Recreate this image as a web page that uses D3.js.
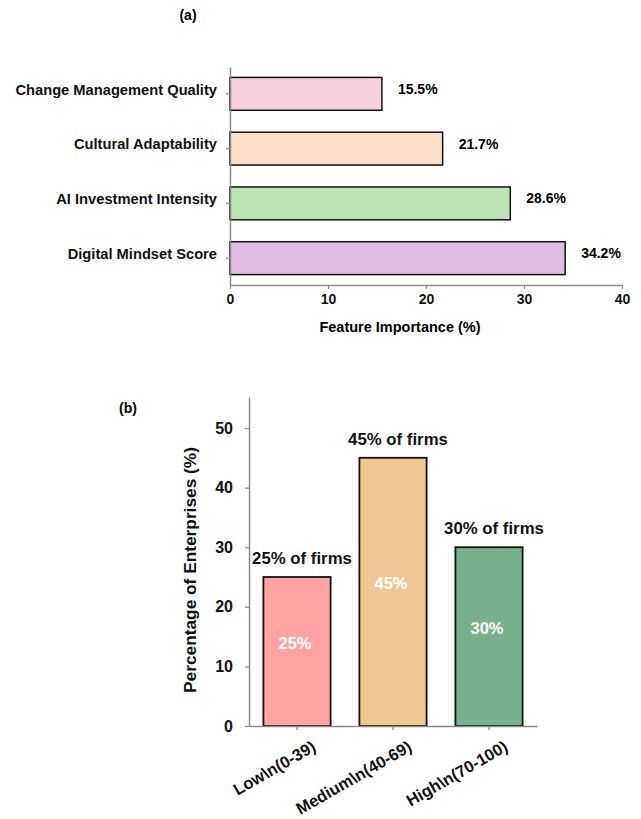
<!DOCTYPE html>
<html>
<head>
<meta charset="utf-8">
<script src="https://cdn.jsdelivr.net/npm/d3@7/dist/d3.min.js"></script>
<style>
  html, body { margin: 0; padding: 0; background: #fff; }
  svg { display: block; font-family: "Liberation Sans", Arial, sans-serif; }
</style>
</head>
<body>
<svg id="fig" width="641" height="819"></svg>
<script>
// Panel (a): feature importance
const features = ["Change Management Quality", "Cultural Adaptability", "AI Investment Intensity", "Digital Mindset Score"];
const importance = [15.5, 21.7, 28.6, 34.2];
const featureColors = ["#f2d0dc", "#fde0cc", "#bce2b5", "#e0bde3"];
const importanceTicks = [0, 10, 20, 30, 40];

// Panel (b): enterprise distribution by score band
const bands = ["Low\\n(0-39)", "Medium\\n(40-69)", "High\\n(70-100)"];
const sharePct = [25, 45, 30];
const bandColors = ["#ffa3a3", "#efc795", "#77b28c"];
const shareTicks = [0, 10, 20, 30, 40, 50];

const svg = d3.select("#fig");
const axisGrey = "#8a8a8a";
const fontFam = "Liberation Sans, Arial, sans-serif";

// ---------- (a) ----------
const ga = svg.append("g");
const xa = d3.scaleLinear().domain([0, 40]).range([230, 622]);
const ya = d3.scaleBand().domain(features).range([67, 285]).paddingInner(0.4).paddingOuter(0.19);

ga.append("text").attr("x", 188).attr("y", 20).attr("text-anchor", "middle")
  .attr("font-size", 14).attr("font-weight", "bold").text("(a)");

ga.selectAll("rect.bar").data(features).join("rect")
  .attr("class", "bar")
  .attr("x", xa(0))
  .attr("y", d => ya(d))
  .attr("width", (d, i) => xa(importance[i]) - xa(0))
  .attr("height", ya.bandwidth())
  .attr("fill", (d, i) => featureColors[i])
  .attr("stroke", "#111").attr("stroke-width", 1.5);

ga.selectAll("text.val").data(features).join("text")
  .attr("class", "val")
  .attr("x", (d, i) => xa(importance[i]) + 16)
  .attr("y", d => ya(d) + ya.bandwidth() / 2 - 5)
  .attr("dy", "0.35em")
  .attr("font-size", 14).attr("font-weight", "bold")
  .text((d, i) => importance[i].toFixed(1) + "%");

const xAxisA = ga.append("g").attr("transform", "translate(0,285)")
  .call(d3.axisBottom(xa).tickValues(importanceTicks).tickSize(4).tickSizeOuter(0).tickPadding(5));
const yAxisA = ga.append("g").attr("transform", "translate(230,0)")
  .call(d3.axisLeft(ya).tickSize(4).tickSizeOuter(0).tickPadding(9));
[xAxisA, yAxisA].forEach(ax => {
  ax.select(".domain").attr("stroke", axisGrey).attr("stroke-width", 1.5);
  ax.selectAll(".tick line").attr("stroke", axisGrey).attr("stroke-width", 1.2);
  ax.selectAll(".tick text").attr("fill", "#111").attr("font-size", 14.7)
    .attr("font-weight", "bold").attr("font-family", fontFam);
});
xAxisA.selectAll(".tick text").attr("font-size", 14);
yAxisA.selectAll(".tick text").attr("dy", "0.05em");

ga.append("text").attr("x", 400).attr("y", 332).attr("text-anchor", "middle")
  .attr("font-size", 14.5).attr("font-weight", "bold").text("Feature Importance (%)");

// ---------- (b) ----------
const gb = svg.append("g");
const xb = d3.scaleBand().domain(bands).range([249, 537]).paddingInner(0.3).paddingOuter(0.15);
const yb = d3.scaleLinear().domain([0, 55.2]).range([726, 397]);

gb.append("text").attr("x", 128).attr("y", 413).attr("text-anchor", "middle")
  .attr("font-size", 14).attr("font-weight", "bold").text("(b)");

gb.selectAll("rect.bar").data(bands).join("rect")
  .attr("class", "bar")
  .attr("x", d => xb(d))
  .attr("y", (d, i) => yb(sharePct[i]))
  .attr("width", xb.bandwidth())
  .attr("height", (d, i) => yb(0) - yb(sharePct[i]))
  .attr("fill", (d, i) => bandColors[i])
  .attr("stroke", "#111").attr("stroke-width", 1.8);

gb.selectAll("text.top").data(bands).join("text")
  .attr("class", "top")
  .attr("x", d => xb(d) + xb.bandwidth() / 2 + 5)
  .attr("y", (d, i) => yb(sharePct[i] + 3.2))
  .attr("dy", "0.35em").attr("text-anchor", "middle")
  .attr("font-size", 16.8).attr("font-weight", "bold").attr("fill", "#111")
  .text((d, i) => sharePct[i] + "% of firms");

gb.selectAll("text.inner").data(bands).join("text")
  .attr("class", "inner")
  .attr("x", d => xb(d) + xb.bandwidth() / 2 - 2)
  .attr("y", (d, i) => yb(sharePct[i] / 2 + 1.45))
  .attr("dy", "0.35em").attr("text-anchor", "middle")
  .attr("font-size", 16.5).attr("font-weight", "bold").attr("fill", "#fff")
  .text((d, i) => sharePct[i] + "%");

const xAxisB = gb.append("g").attr("transform", "translate(0,726)")
  .call(d3.axisBottom(xb).tickSize(4).tickSizeOuter(0));
const yAxisB = gb.append("g").attr("transform", "translate(249,0)")
  .call(d3.axisLeft(yb).tickValues(shareTicks).tickSize(4).tickSizeOuter(0).tickPadding(12));
[xAxisB, yAxisB].forEach(ax => {
  ax.select(".domain").attr("stroke", axisGrey).attr("stroke-width", 1.5);
  ax.selectAll(".tick line").attr("stroke", axisGrey).attr("stroke-width", 1.2);
  ax.selectAll(".tick text").attr("fill", "#111").attr("font-size", 16)
    .attr("font-weight", "bold").attr("font-family", fontFam);
});
xAxisB.selectAll(".tick text")
  .attr("font-size", 16.5)
  .attr("text-anchor", "end")
  .attr("dy", 0)
  .attr("y", 0)
  .attr("transform", "translate(20,24) rotate(-30)");

gb.append("text")
  .attr("transform", "translate(196,570) rotate(-90)")
  .attr("text-anchor", "middle")
  .attr("font-size", 17.3).attr("font-weight", "bold").attr("fill", "#111")
  .text("Percentage of Enterprises (%)");
</script>
</body>
</html>
